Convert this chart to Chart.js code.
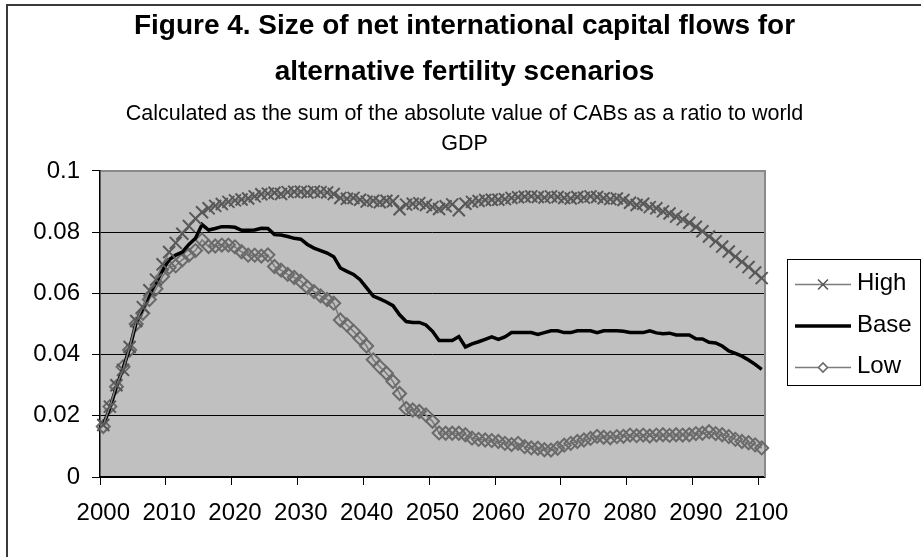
<!DOCTYPE html>
<html lang="en">
<head>
<meta charset="utf-8">
<title>Figure 4. Size of net international capital flows</title>
<script src="https://cdn.jsdelivr.net/npm/chart.js@4.4.1/dist/chart.umd.min.js"></script>
<style>
  html, body { margin: 0; padding: 0; background: #ffffff; }
  #chart { display: block; }
</style>
</head>
<body>
<canvas id="chart" width="921" height="557"></canvas>
<script>
// Projection years (one category per year)
const years = [
  2000, 2001, 2002, 2003, 2004, 2005, 2006, 2007, 2008, 2009,
  2010, 2011, 2012, 2013, 2014, 2015, 2016, 2017, 2018, 2019,
  2020, 2021, 2022, 2023, 2024, 2025, 2026, 2027, 2028, 2029,
  2030, 2031, 2032, 2033, 2034, 2035, 2036, 2037, 2038, 2039,
  2040, 2041, 2042, 2043, 2044, 2045, 2046, 2047, 2048, 2049,
  2050, 2051, 2052, 2053, 2054, 2055, 2056, 2057, 2058, 2059,
  2060, 2061, 2062, 2063, 2064, 2065, 2066, 2067, 2068, 2069,
  2070, 2071, 2072, 2073, 2074, 2075, 2076, 2077, 2078, 2079,
  2080, 2081, 2082, 2083, 2084, 2085, 2086, 2087, 2088, 2089,
  2090, 2091, 2092, 2093, 2094, 2095, 2096, 2097, 2098, 2099,
  2100
];

// Labelled years on the horizontal axis
const decadeLabels = [2000, 2010, 2020, 2030, 2040, 2050, 2060, 2070, 2080, 2090, 2100];

// Vertical axis ticks
const yTicks = [0, 0.02, 0.04, 0.06, 0.08, 0.1];

// Sum of |CAB| / world GDP, high fertility scenario
const high = [
  0.0170, 0.0230, 0.0300, 0.0350, 0.0425, 0.0510, 0.0555, 0.0610, 0.0645, 0.0695,
  0.0735, 0.0765, 0.0795, 0.0820, 0.0845, 0.0865, 0.0878, 0.0886, 0.0892, 0.0899,
  0.0904, 0.0907, 0.0910, 0.0917, 0.0924, 0.0926, 0.0929, 0.0925, 0.0931, 0.0932,
  0.0932, 0.0930, 0.0933, 0.0931, 0.0930, 0.0925, 0.0912, 0.0909, 0.0912, 0.0906,
  0.0900, 0.0903, 0.0898, 0.0903, 0.0901, 0.0875, 0.0890, 0.0893, 0.0895, 0.0889,
  0.0882, 0.0876, 0.0885, 0.0891, 0.0872, 0.0893, 0.0899, 0.0902, 0.0905, 0.0906,
  0.0906, 0.0908, 0.0912, 0.0914, 0.0916, 0.0917, 0.0915, 0.0913, 0.0917, 0.0915,
  0.0912, 0.0910, 0.0915, 0.0913, 0.0917, 0.0915, 0.0911, 0.0908, 0.0910, 0.0905,
  0.0896, 0.0889, 0.0893, 0.0882, 0.0878, 0.0868, 0.0861, 0.0851, 0.0842, 0.0831,
  0.0818, 0.0803, 0.0786, 0.0770, 0.0753, 0.0737, 0.0720, 0.0703, 0.0686, 0.0668,
  0.0650
];

// Base fertility scenario
const base = [
  0.0170, 0.0225, 0.0295, 0.0355, 0.0420, 0.0505, 0.0550, 0.0595, 0.0635, 0.0675,
  0.0710, 0.0725, 0.0735, 0.0760, 0.0780, 0.0825, 0.0807, 0.0812, 0.0818, 0.0818,
  0.0816, 0.0806, 0.0806, 0.0807, 0.0813, 0.0812, 0.0792, 0.0791, 0.0786, 0.0780,
  0.0777, 0.0760, 0.0748, 0.0740, 0.0732, 0.0720, 0.0683, 0.0672, 0.0662, 0.0645,
  0.0618, 0.0591, 0.0582, 0.0572, 0.0560, 0.0530, 0.0508, 0.0505, 0.0505, 0.0497,
  0.0476, 0.0446, 0.0446, 0.0446, 0.0459, 0.0425, 0.0435, 0.0442, 0.0450, 0.0458,
  0.0450, 0.0458, 0.0472, 0.0472, 0.0472, 0.0472, 0.0466, 0.0472, 0.0478, 0.0478,
  0.0472, 0.0472, 0.0478, 0.0478, 0.0478, 0.0472, 0.0478, 0.0478, 0.0478, 0.0476,
  0.0472, 0.0472, 0.0472, 0.0478, 0.0471, 0.0468, 0.0470, 0.0464, 0.0464, 0.0464,
  0.0452, 0.0451, 0.0440, 0.0438, 0.0428, 0.0412, 0.0404, 0.0395, 0.0382, 0.0368,
  0.0352
];

// Low fertility scenario
const low = [
  0.0165, 0.0230, 0.0295, 0.0360, 0.0415, 0.0500, 0.0535, 0.0580, 0.0615, 0.0655,
  0.0685, 0.0690, 0.0710, 0.0725, 0.0740, 0.0775, 0.0753, 0.0755, 0.0758, 0.0758,
  0.0752, 0.0736, 0.0725, 0.0725, 0.0722, 0.0726, 0.0688, 0.0676, 0.0662, 0.0652,
  0.0640, 0.0620, 0.0606, 0.0592, 0.0580, 0.0568, 0.0513, 0.0497, 0.0476, 0.0453,
  0.0428, 0.0383, 0.0360, 0.0339, 0.0312, 0.0273, 0.0224, 0.0219, 0.0214, 0.0203,
  0.0182, 0.0144, 0.0143, 0.0143, 0.0143, 0.0138, 0.0127, 0.0123, 0.0121, 0.0119,
  0.0116, 0.0110, 0.0106, 0.0110, 0.0099, 0.0095, 0.0094, 0.0089, 0.0088, 0.0094,
  0.0104, 0.0110, 0.0116, 0.0121, 0.0126, 0.0133, 0.0130, 0.0128, 0.0132, 0.0133,
  0.0137, 0.0135, 0.0137, 0.0134, 0.0137, 0.0138, 0.0136, 0.0138, 0.0137, 0.0138,
  0.0142, 0.0143, 0.0148, 0.0142, 0.0138, 0.0132, 0.0123, 0.0116, 0.0112, 0.0105,
  0.0095
];

const FONT = "'Liberation Sans', Arial, Helvetica, sans-serif";

const HIGH_LINE = '#7c7c7c', HIGH_MARK = '#585858';
const LOW_LINE = '#7c7c7c', LOW_MARK = '#6a6a6a';

// Marker shapes used in the legend samples
function drawCross(ctx, x, y, r) {
  const d = r * Math.SQRT1_2;
  ctx.beginPath();
  ctx.moveTo(x - d, y - d); ctx.lineTo(x + d, y + d);
  ctx.moveTo(x + d, y - d); ctx.lineTo(x - d, y + d);
  ctx.stroke();
}
function drawDiamond(ctx, x, y, r) {
  ctx.beginPath();
  ctx.moveTo(x - r, y); ctx.lineTo(x, y - r);
  ctx.lineTo(x + r, y); ctx.lineTo(x, y + r);
  ctx.closePath();
  ctx.fill();
  ctx.stroke();
}

// Grey plot area, outer chart border, and the grey top/right edge of the plot
const plotFrame = {
  id: 'plotFrame',
  beforeDraw(chart) {
    const { ctx, chartArea: a } = chart;
    ctx.save();
    ctx.fillStyle = '#ffffff';
    ctx.fillRect(0, 0, chart.width, chart.height);
    ctx.strokeStyle = '#3a3a3a';
    ctx.lineWidth = 2;
    ctx.strokeRect(7, 5, chart.width + 20, chart.height + 20);
    ctx.fillStyle = '#c0c0c0';
    ctx.fillRect(a.left, a.top, a.right - a.left, a.bottom - a.top);
    ctx.restore();
  },
  beforeDatasetsDraw(chart) {
    const { ctx, chartArea: a } = chart;
    ctx.save();
    ctx.strokeStyle = '#8a8a8a';
    ctx.lineWidth = 2;
    ctx.beginPath();
    ctx.moveTo(a.left + 1, a.top);
    ctx.lineTo(a.right, a.top);
    ctx.lineTo(a.right, a.bottom);
    ctx.stroke();
    ctx.restore();
  }
};

// Boxed legend placed in its own layout column to the right of the plot
const LEGEND_COLUMN = 156;
function paintLegend(chart, colLeft) {
  const { ctx, chartArea: a } = chart;
  const bx = colLeft + 22, bw = 133, bh = 126;
  const by = Math.round((a.top + a.bottom) / 2 - bh / 2) - 1.5;
  ctx.save();
  ctx.strokeStyle = '#000';
  ctx.lineWidth = 1;
  ctx.strokeRect(Math.round(bx) + 0.5, by, bw, bh);
  const x0 = bx + 8, x1 = bx + 64, xm = (x0 + x1) / 2, tx = bx + 70;
  const rows = [by + 25, by + 66.5, by + 108];
  chart.data.datasets.forEach((ds, i) => {
    const y = rows[i];
    ctx.strokeStyle = ds.borderColor;
    ctx.lineWidth = ds.borderWidth;
    ctx.beginPath(); ctx.moveTo(x0, y); ctx.lineTo(x1, y); ctx.stroke();
    ctx.strokeStyle = ds.pointBorderColor || ds.borderColor;
    ctx.lineWidth = 1.6;
    ctx.fillStyle = '#ffffff';
    if (ds.pointStyle === 'crossRot') drawCross(ctx, xm, y, 7);
    if (ds.pointStyle === 'rectRot') drawDiamond(ctx, xm, y, 4.5);
    ctx.fillStyle = '#000';
    ctx.font = `24px ${FONT}`;
    ctx.textAlign = 'left';
    ctx.textBaseline = 'middle';
    ctx.fillText(ds.label, tx, y - 1);
  });
  ctx.restore();
}
const sideLegend = {
  id: 'sideLegend',
  beforeInit(chart) {
    const box = {
      position: 'right', weight: 0, fullSize: false, options: {},
      top: 0, left: 0, right: 0, bottom: 0, width: 0, height: 0,
      isHorizontal() { return false; },
      update(maxWidth, maxHeight) { this.width = LEGEND_COLUMN; this.height = maxHeight; },
      draw() { paintLegend(chart, this.left); }
    };
    Chart.layouts.addBox(chart, box);
  }
};

new Chart(document.getElementById('chart'), {
  type: 'line',
  data: {
    labels: years.map(String),
    datasets: [
      {
        label: 'High', data: high,
        borderColor: HIGH_LINE, borderWidth: 1.6,
        pointStyle: 'crossRot', pointRadius: 8.5, pointBorderWidth: 2,
        pointBorderColor: HIGH_MARK, pointBackgroundColor: 'rgba(0,0,0,0)',
        tension: 0, clip: 12
      },
      {
        label: 'Base', data: base,
        borderColor: '#000000', borderWidth: 3.5,
        pointRadius: 0, tension: 0, clip: 12
      },
      {
        label: 'Low', data: low,
        borderColor: LOW_LINE, borderWidth: 1.6,
        pointStyle: 'rectRot', pointRadius: 6.5, pointBorderWidth: 2,
        pointBorderColor: LOW_MARK, pointBackgroundColor: 'rgba(0,0,0,0)',
        tension: 0, clip: 12
      }
    ]
  },
  options: {
    responsive: false,
    animation: false,
    devicePixelRatio: 1,
    events: [],
    layout: { padding: { left: 8, top: 0, right: 0, bottom: 0 } },
    plugins: {
      legend: { display: false },
      tooltip: { enabled: false },
      title: {
        display: true,
        text: ['Figure 4. Size of net international capital flows for', 'alternative fertility scenarios'],
        color: '#000',
        font: { family: FONT, size: 28, weight: 'bold', lineHeight: 1.625 },
        padding: { top: 3.75, bottom: 5 }
      },
      subtitle: {
        display: true,
        text: ['Calculated as the sum of the absolute value of CABs as a ratio to world', 'GDP'],
        color: '#000',
        font: { family: FONT, size: 21.5, weight: 'normal', lineHeight: 1.372 },
        padding: { top: 0, bottom: 12.25 }
      }
    },
    scales: {
      x: {
        type: 'category',
        offset: true,
        grid: {
          display: true, offset: true, drawOnChartArea: false, drawTicks: true,
          tickLength: 8, lineWidth: 1,
          color: c => (c.index !== undefined && decadeLabels.includes(years[c.index]) ? '#000' : 'rgba(0,0,0,0)')
        },
        border: { display: true, color: '#000', width: 1.5 },
        ticks: {
          autoSkip: false, maxRotation: 0, minRotation: 0, padding: 14,
          color: '#000', font: { family: FONT, size: 24 },
          callback: (v, i) => (decadeLabels.includes(years[i]) ? String(years[i]) : '')
        },
        afterFit: s => { s.height = 80; }
      },
      y: {
        type: 'linear', min: 0, max: 0.1,
        afterBuildTicks: s => { s.ticks = yTicks.map(v => ({ value: v })); },
        grid: { color: '#000', lineWidth: 1, tickLength: 8, drawTicks: true },
        border: { display: true, color: '#000', width: 1.5 },
        ticks: {
          padding: 12, color: '#000', font: { family: FONT, size: 24 },
          callback: v => String(v)
        },
        afterFit: s => { s.width = 92; }
      }
    }
  },
  plugins: [plotFrame, sideLegend]
});
</script>
</body>
</html>
